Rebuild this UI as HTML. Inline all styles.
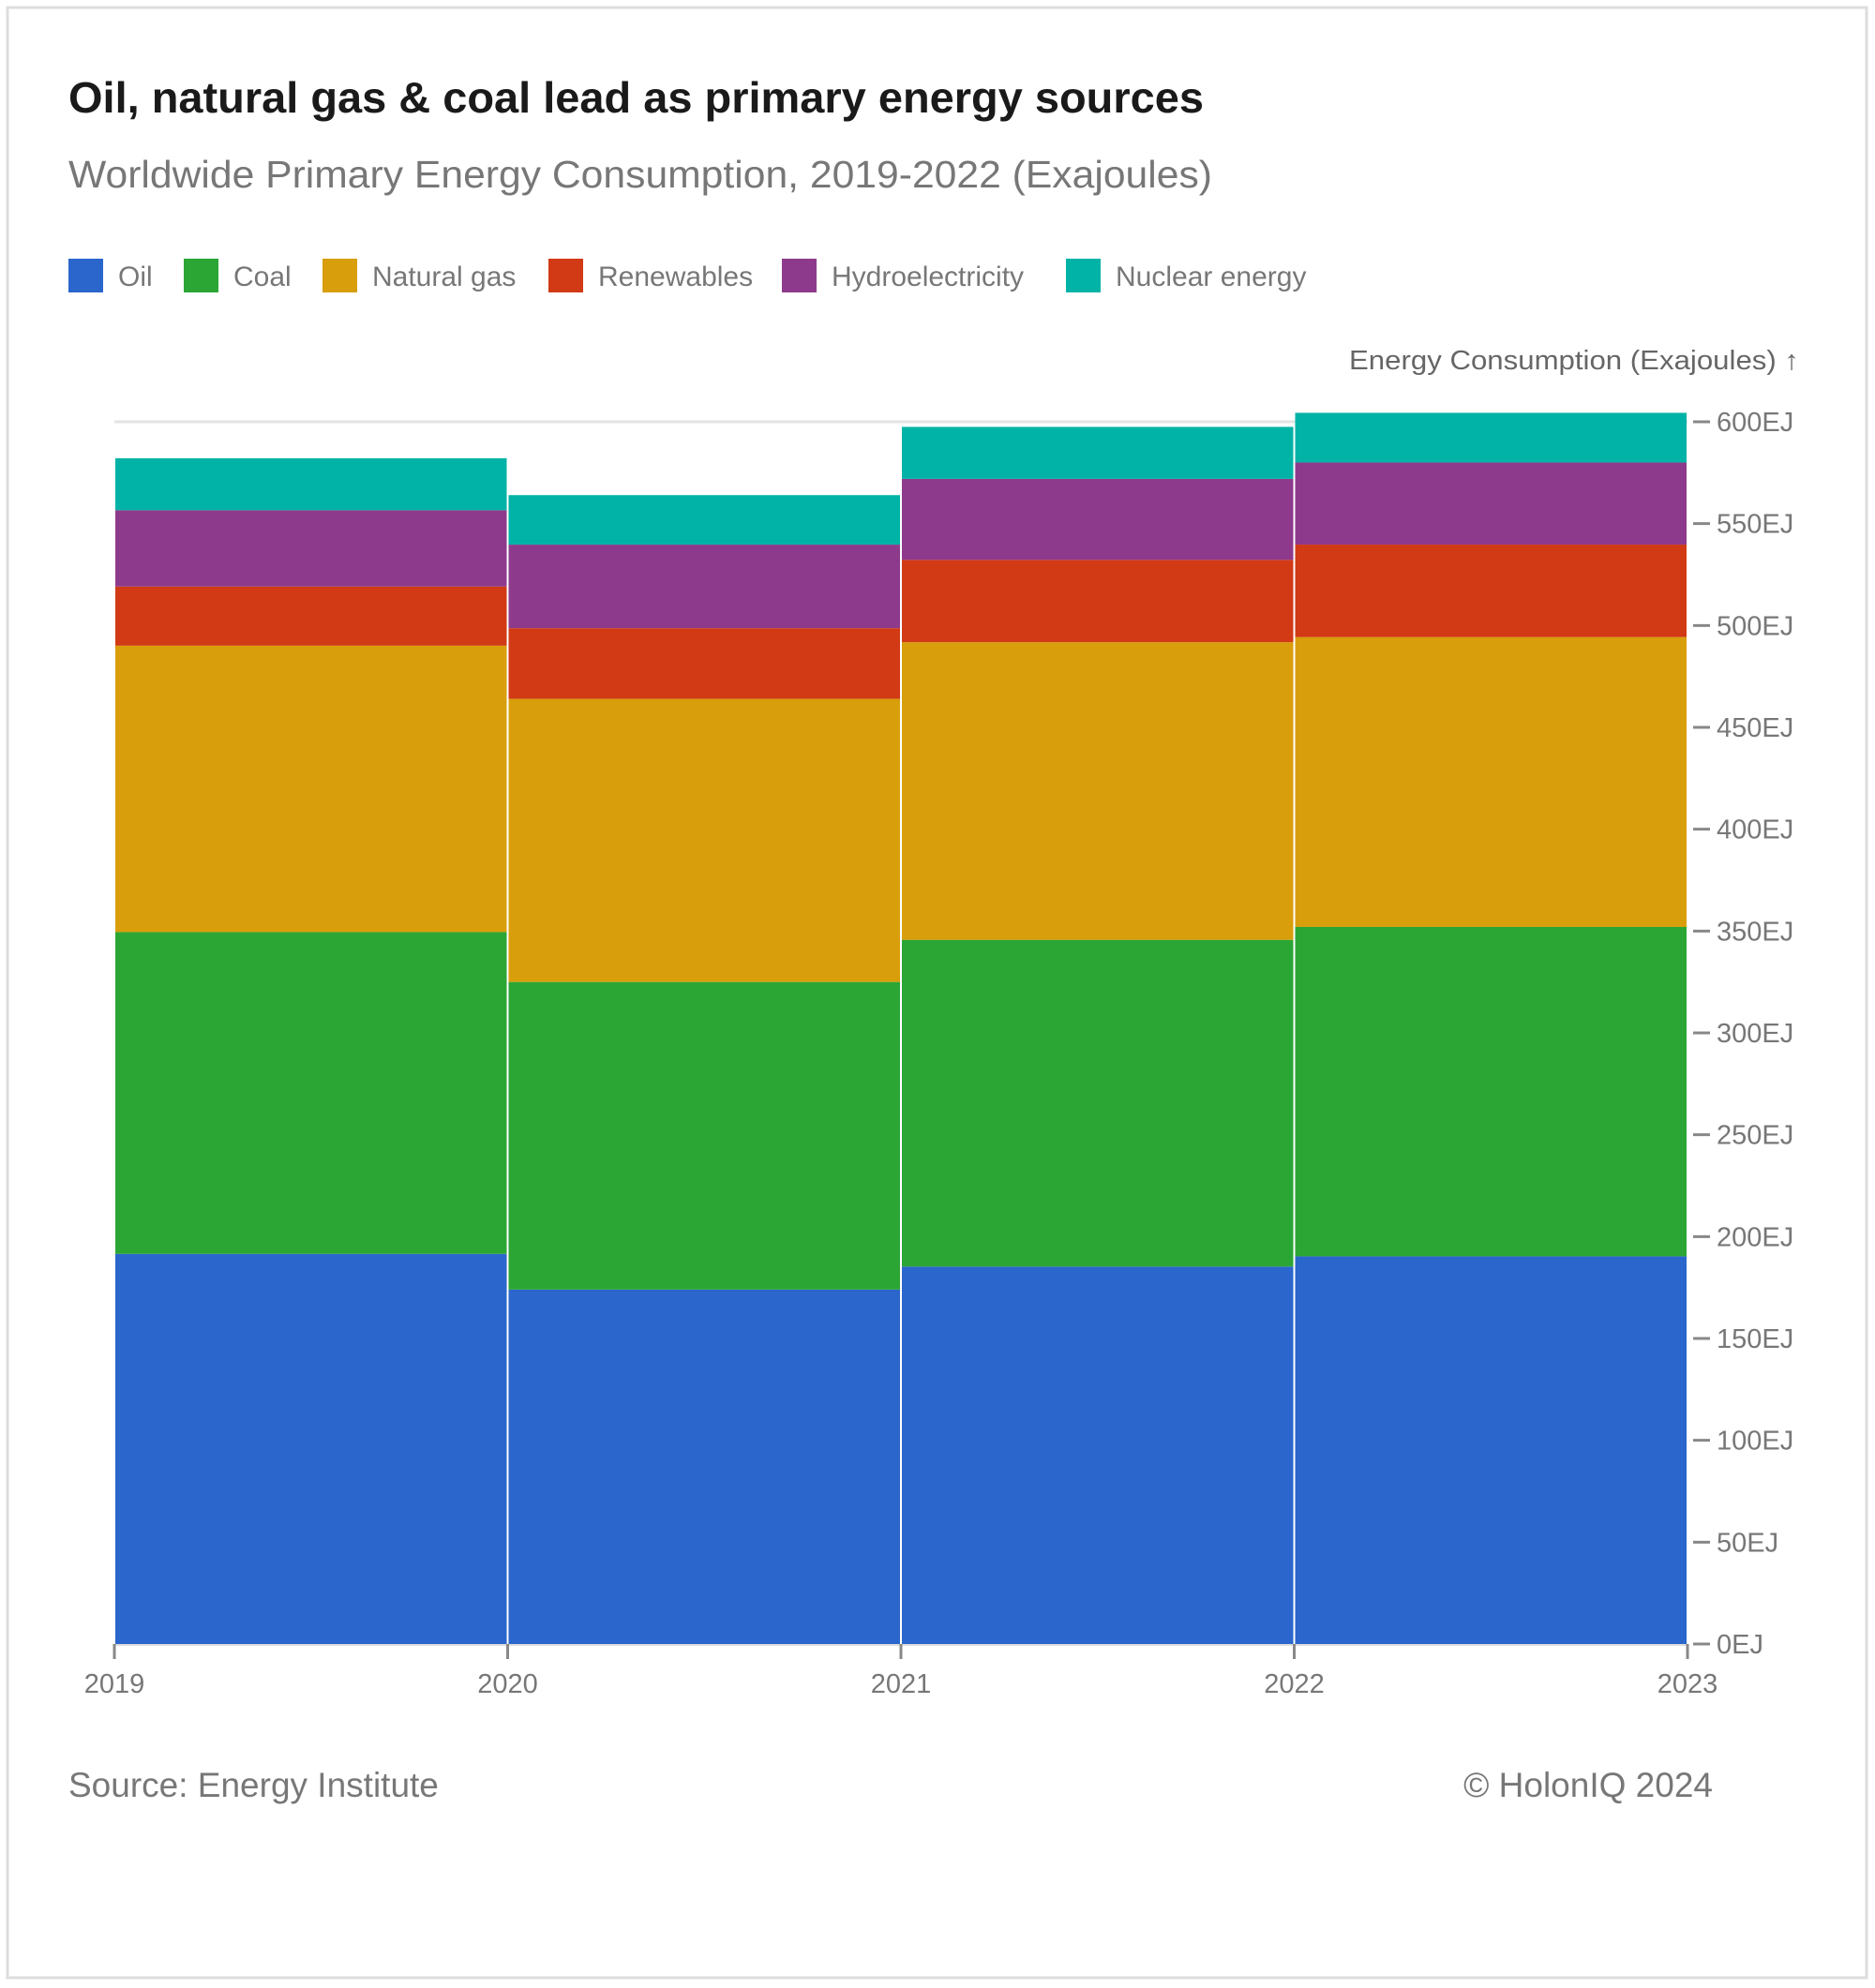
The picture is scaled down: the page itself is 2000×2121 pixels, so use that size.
<!DOCTYPE html>
<html><head><meta charset="utf-8"><style>
body{margin:0;width:2000px;height:2121px;background:#fff;font-family:"Liberation Sans",sans-serif;}
svg{display:block}
</style></head><body>
<svg id="chart" width="2000" height="2121">
<rect x="8" y="8" width="1983" height="2102" fill="#fff" stroke="#ddd" stroke-width="3"/>
<text x="73" y="120" font-size="46" font-weight="bold" fill="#1a1a1a" textLength="1211" lengthAdjust="spacingAndGlyphs">Oil, natural gas &amp; coal lead as primary energy sources</text>
<text x="73" y="200" font-size="41" fill="#777" textLength="1220" lengthAdjust="spacingAndGlyphs">Worldwide Primary Energy Consumption, 2019-2022 (Exajoules)</text>
<g id="legend"></g>
<text x="1919" y="394" font-size="29" fill="#666" text-anchor="end" textLength="480" lengthAdjust="spacingAndGlyphs">Energy Consumption (Exajoules) ↑</text>
<g id="plot"></g>
<text x="73" y="1917" font-size="37" fill="#777">Source: Energy Institute</text>
<text x="1827" y="1917" font-size="37" fill="#777" text-anchor="end">© HolonIQ 2024</text>
</svg>
<script>
const years = ["2019","2020","2021","2022","2023"];
const seriesNames = ["Oil","Coal","Natural gas","Renewables","Hydroelectricity","Nuclear energy"];
const oil = [191.5,174,185.3,190.3];
const coal = [158,151,160.4,161.7];
const gas = [140.6,139,146.1,142.3];
const renewables = [29,34.7,40.4,45.4];
const hydro = [37.5,41,39.8,40.3];
const nuclear = [25.5,24.3,25.5,24.4];
const yTicks = [0,50,100,150,200,250,300,350,400,450,500,550,600];
const colors = ["#2a66cc","#2ba635","#d89e0b","#d13a15","#8e3a8c","#00b3a6"];
const NS="http://www.w3.org/2000/svg";
const X0=122,X1=1800,Y0=1754,Y1=450,YMAX=600;
function xs(i){return X0+(X1-X0)*i/(years.length-1);}
function ys(v){return Y0-(Y0-Y1)*v/YMAX;}
function mk(tag,attrs,parent){const e=document.createElementNS(NS,tag);for(const k in attrs)e.setAttribute(k,attrs[k]);parent.appendChild(e);return e;}
const plot=document.getElementById('plot');
const legend=document.getElementById('legend');
const lx=[73,196,344,585,834,1137];
seriesNames.forEach((n,i)=>{
  const r=mk('rect',{x:lx[i],y:276,width:37,height:36,fill:colors[i]},legend);
  
  
  const t=mk('text',{x:lx[i]+53,y:305,'font-size':30,fill:'#777'},legend);
  t.textContent=n;
  
  
});
const g=mk('line',{x1:X0,x2:X1,y1:ys(600),y2:ys(600),stroke:'#e3e3e3','stroke-width':3},plot);


const series=[oil,coal,gas,renewables,hydro,nuclear];
for(let i=0;i<oil.length;i++){
  let base=0;
  series.forEach((s,k)=>{
    const top=base+s[i];
    const r=mk('rect',{x:xs(i)+1,y:ys(top),width:xs(i+1)-xs(i)-2,height:ys(base)-ys(top),fill:colors[k]},plot);
    
    
    base=top;
  });
}
const bl=mk('line',{x1:X0,x2:X1,y1:Y0+1,y2:Y0+1,stroke:'#ddd','stroke-width':2},plot);


yTicks.forEach(v=>{
  const l=mk('line',{x1:X1+6,x2:X1+24,y1:ys(v),y2:ys(v),stroke:'#888','stroke-width':3},plot);
  
  
  const t=mk('text',{x:X1+31,y:ys(v)+10,'font-size':29,fill:'#777'},plot);
  t.textContent=v+'EJ';
  
  
});
years.forEach((y,i)=>{
  const l=mk('line',{x1:xs(i),x2:xs(i),y1:Y0,y2:Y0+16,stroke:'#888','stroke-width':3},plot);
  
  
  const t=mk('text',{x:xs(i),y:Y0+52,'font-size':29,fill:'#777','text-anchor':'middle'},plot);
  t.textContent=y;
  
  
});
</script>
</body></html>
